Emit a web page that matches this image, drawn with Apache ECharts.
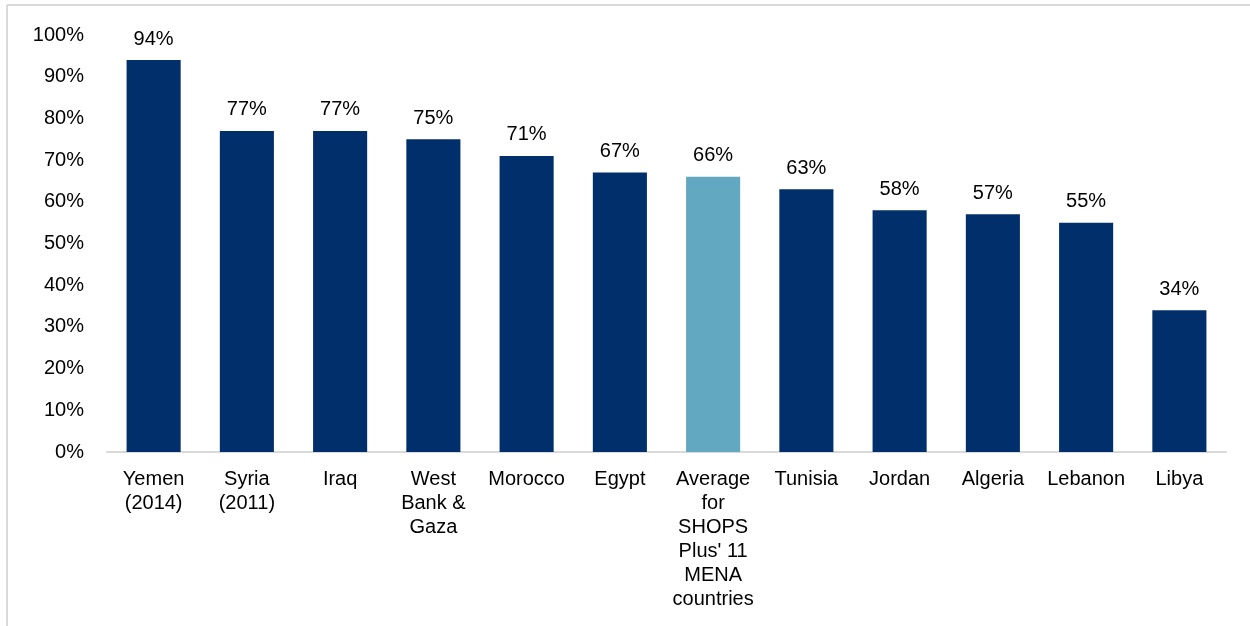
<!DOCTYPE html>
<html>
<head>
<meta charset="utf-8">
<script src="https://cdn.jsdelivr.net/npm/echarts@6/dist/echarts.min.js"></script>
<style>
html,body{margin:0;padding:0;background:#fff;}
#chart{width:1250px;height:626px;}
</style>
</head>
<body>
<div id="chart"></div>
<script>
var categories = ["Yemen\n(2014)", "Syria\n(2011)", "Iraq", "West\nBank &\nGaza", "Morocco", "Egypt", "Average\nfor\nSHOPS\nPlus' 11\nMENA\ncountries", "Tunisia", "Jordan", "Algeria", "Lebanon", "Libya"];
var values = [94, 77, 77, 75, 71, 67, 66, 63, 58, 57, 55, 34];
var highlightIndex = 6;

var navy = "#002F6B";
var light = "#62A8C0";
var font = "Liberation Sans, Arial, sans-serif";

var chart = echarts.init(document.getElementById('chart'));
chart.setOption({
  animation: false,
  backgroundColor: "#fff",
  graphic: [
    {type: 'line', shape: {x1: 7, y1: 5, x2: 1250, y2: 5}, style: {stroke: '#d9d9d9', lineWidth: 2}},
    {type: 'line', shape: {x1: 7, y1: 5, x2: 7, y2: 626}, style: {stroke: '#d9d9d9', lineWidth: 2}}
  ],
  grid: {left: 107, right: 24, top: 35, bottom: 174, containLabel: false},
  xAxis: {
    type: 'category',
    data: categories,
    axisLine: {show: true, lineStyle: {color: '#d9d9d9', width: 2}},
    axisTick: {show: false},
    axisLabel: {
      interval: 0, margin: 15, color: '#000', fontFamily: font, fontSize: 20, lineHeight: 24
    }
  },
  yAxis: {
    type: 'value',
    min: 0, max: 100, interval: 10,
    axisLine: {show: false},
    axisTick: {show: false},
    splitLine: {show: false},
    axisLabel: {
      formatter: '{value}%', margin: 23, color: '#000', fontFamily: font, fontSize: 20
    }
  },
  series: [{
    type: 'bar',
    barWidth: '58%',
    data: values.map(function (v, i) {
      return {value: v, itemStyle: {color: i === highlightIndex ? light : navy}};
    }),
    label: {
      show: true, position: 'top', distance: 11, formatter: '{c}%',
      color: '#000', fontFamily: font, fontSize: 20
    }
  }]
});
</script>
</body>
</html>
